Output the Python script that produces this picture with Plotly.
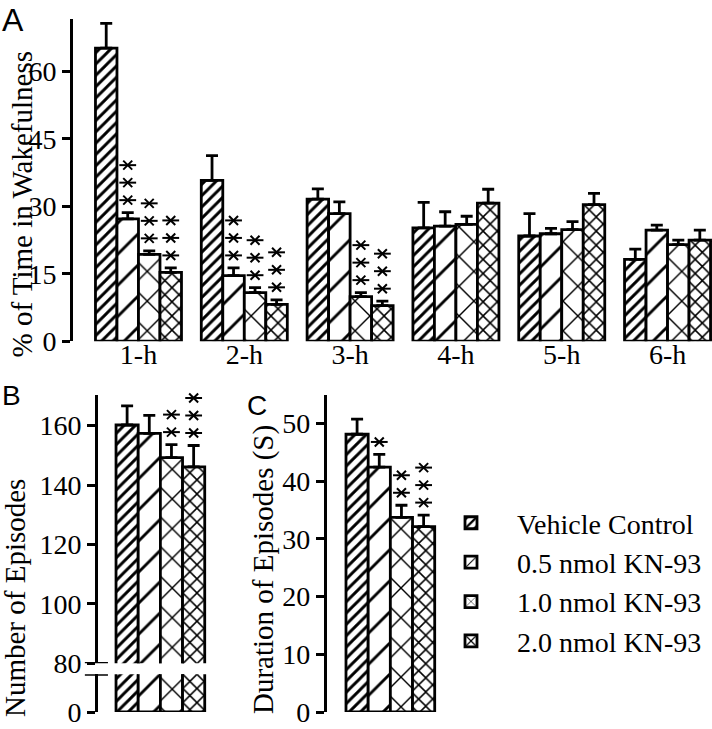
import plotly.graph_objects as go

# ---------------- data ----------------
hours = ["1-h", "2-h", "3-h", "4-h", "5-h", "6-h"]
series_names = ["Vehicle Control", "0.5 nmol KN-93", "1.0 nmol KN-93", "2.0 nmol KN-93"]

wake_vehicle = [65.2, 35.8, 31.6, 25.2, 23.4, 18.2]
wake_kn05 = [27.2, 14.6, 28.4, 25.6, 23.9, 24.7]
wake_kn10 = [19.3, 10.8, 9.9, 26.0, 24.8, 21.5]
wake_kn20 = [15.3, 8.2, 7.9, 30.7, 30.4, 22.5]

wake_vehicle_sem = [5.5, 5.5, 2.3, 5.7, 5.0, 2.3]
wake_kn05_sem = [1.4, 1.7, 2.6, 3.2, 1.2, 1.1]
wake_kn10_sem = [0.8, 1.1, 0.9, 1.8, 1.8, 1.0]
wake_kn20_sem = [1.0, 1.0, 1.0, 3.1, 2.5, 2.2]

# number of significance asterisks
wake_vehicle_sig = [0, 0, 0, 0, 0, 0]
wake_kn05_sig = [3, 3, 0, 0, 0, 0]
wake_kn10_sig = [3, 3, 3, 0, 0, 0]
wake_kn20_sig = [3, 3, 3, 0, 0, 0]

episodes_mean = [160.2, 157.4, 149.2, 146.1]
episodes_sem = [6.4, 6.0, 4.4, 7.2]
episodes_sig = [0, 0, 2, 3]

duration_mean = [48.1, 42.4, 33.7, 32.1]
duration_sem = [2.6, 2.2, 2.1, 2.0]
duration_sig = [0, 1, 2, 3]

wake_means = [wake_vehicle, wake_kn05, wake_kn10, wake_kn20]
wake_sems = [wake_vehicle_sem, wake_kn05_sem, wake_kn10_sem, wake_kn20_sem]
wake_sigs = [wake_vehicle_sig, wake_kn05_sig, wake_kn10_sig, wake_kn20_sig]
hour_pos = list(range(len(hours)))

# ---------------- style ----------------
W, H = 712, 729
SERIF = "Liberation Serif"
SANS = "Liberation Sans"
BARGAP = 0.187
patterns = [
    dict(shape="/", size=8, solidity=0.36),
    dict(shape="/", size=22, solidity=0.13),
    dict(shape="x", size=21, solidity=0.13),
    dict(shape="x", size=10, solidity=0.28),
]

dom_x_a, dom_y_a, rng_y_a = [0.1025, 1.0], [0.532, 0.974], [0, 71.7]
dom_x_b, dom_y_b, rng_y_b = [0.1376, 0.3129], [0.0901, 0.4582], [80, 170.3]
dom_y_b_low, rng_y_b_low = [0.0233, 0.075], [0, 14.5]
dom_x_c, dom_y_c, rng_y_c = [0.4589, 0.6376], [0.0233, 0.4582], [0, 54.9]


def marker(i):
    p = dict(patterns[i])
    p.update(fgcolor="black", bgcolor="white", fillmode="replace", fgopacity=1)
    return dict(color="white", pattern=p, line=dict(color="black", width=2.8))


def err(arr):
    return dict(type="data", symmetric=False, array=arr, arrayminus=[0] * len(arr),
                color="black", thickness=2.8, width=6)


fig = go.Figure()

# Panel A
for i, name in enumerate(series_names):
    fig.add_trace(go.Bar(x=hour_pos, y=wake_means[i], name=name, legendgroup=name,
                         marker=marker(i), error_y=err(wake_sems[i]),
                         xaxis="x", yaxis="y", showlegend=True))
# Panel B (upper and lower segments of the broken axis)
for i, name in enumerate(series_names):
    fig.add_trace(go.Bar(x=[0], y=[episodes_mean[i]], name=name, legendgroup=name,
                         marker=marker(i), error_y=err([episodes_sem[i]]),
                         xaxis="x2", yaxis="y2", showlegend=False))
for i, name in enumerate(series_names):
    fig.add_trace(go.Bar(x=[0], y=[episodes_mean[i]], name=name, legendgroup=name,
                         marker=marker(i), xaxis="x3", yaxis="y3", showlegend=False))
# Panel C
for i, name in enumerate(series_names):
    fig.add_trace(go.Bar(x=[0], y=[duration_mean[i]], name=name, legendgroup=name,
                         marker=marker(i), error_y=err([duration_sem[i]]),
                         xaxis="x4", yaxis="y4", showlegend=False))

# significance asterisks: drawn as markers (an X plus a horizontal bar), stacked
bw = (1 - BARGAP) / 4
star_x = {"A": [], "B": [], "C": []}
star_y = {"A": [], "B": [], "C": []}


def px_per_unit(dom, rng):
    return (dom[1] - dom[0]) * H / (rng[1] - rng[0])


def add_stars(key, xc, top, n, ppu):
    for k in range(n):
        star_x[key].append(xc)
        star_y[key].append(top + (12.5 + 17.5 * k) / ppu)


ppu_a = px_per_unit(dom_y_a, rng_y_a)
ppu_b = px_per_unit(dom_y_b, rng_y_b)
ppu_c = px_per_unit(dom_y_c, rng_y_c)
for i in range(4):
    for j in hour_pos:
        if wake_sigs[i][j]:
            add_stars("A", j + (i - 1.5) * bw, wake_means[i][j] + wake_sems[i][j],
                      wake_sigs[i][j], ppu_a)
    if episodes_sig[i]:
        add_stars("B", (i - 1.5) * bw, episodes_mean[i] + episodes_sem[i], episodes_sig[i], ppu_b)
    if duration_sig[i]:
        add_stars("C", (i - 1.5) * bw, duration_mean[i] + duration_sem[i], duration_sig[i], ppu_c)

for key, xa, ya in [("A", "x", "y"), ("B", "x2", "y2"), ("C", "x4", "y4")]:
    for sym, size in [("x-thin-open", 9), ("line-ew-open", 12)]:
        fig.add_trace(go.Scatter(x=star_x[key], y=star_y[key], mode="markers",
                                 marker=dict(symbol=sym, size=size, color="black",
                                             line=dict(color="black", width=2)),
                                 xaxis=xa, yaxis=ya, showlegend=False, hoverinfo="skip",
                                 cliponaxis=False))

yax_common = dict(showline=True, linewidth=2.8, linecolor="black", ticks="outside",
                  ticklen=8, tickwidth=2.8, tickcolor="black", showgrid=False,
                  zeroline=False, automargin=False, ticklabeloverflow="allow",
                  tickfont=dict(family=SERIF, size=28, color="black"))
xax_hidden = dict(showline=False, showgrid=False, zeroline=False, showticklabels=False,
                  ticks="", automargin=False)

fig.update_layout(
    width=W, height=H, margin=dict(l=0, r=0, t=0, b=0, autoexpand=False),
    paper_bgcolor="white", plot_bgcolor="white",
    barmode="group", bargap=BARGAP, bargroupgap=0,
    showlegend=True,
    legend=dict(x=425 / W, y=0.2016, xanchor="left", yanchor="middle",
                font=dict(family=SERIF, size=28, color="black"),
                bgcolor="rgba(0,0,0,0)", tracegroupgap=0, itemwidth=82),
    xaxis=dict(domain=dom_x_a, range=[-0.619, 5.42], tickvals=hour_pos, ticktext=hours,
               showline=False, showgrid=False, zeroline=False, ticks="",
               automargin=False, ticklabelstandoff=-6, ticklabeloverflow="allow",
               tickfont=dict(family=SERIF, size=28, color="black"), anchor="y"),
    yaxis=dict(domain=dom_y_a, range=rng_y_a, tickvals=[0, 15, 30, 45, 60],
               anchor="x", **yax_common),
    xaxis2=dict(domain=dom_x_b, range=[-0.572, 0.572], anchor="y2", **xax_hidden),
    yaxis2=dict(domain=dom_y_b, range=rng_y_b,
                tickvals=[80, 100, 120, 140, 160], anchor="x2", **yax_common),
    xaxis3=dict(domain=dom_x_b, range=[-0.572, 0.572], anchor="y3", **xax_hidden),
    yaxis3=dict(domain=dom_y_b_low, range=rng_y_b_low, tickvals=[0], anchor="x3",
                **yax_common),
    xaxis4=dict(domain=dom_x_c, range=[-0.583, 0.583], anchor="y4", **xax_hidden),
    yaxis4=dict(domain=dom_y_c, range=rng_y_c, tickvals=[0, 10, 20, 30, 40, 50],
                anchor="x4", **yax_common),
)

# axis titles
for text, x, y in [("% of Time in Wakefulness", 21 / W, 1 - 204.5 / H),
                   ("Number of Episodes", 15 / W, 1 - 598 / H),
                   ("Duration of Episodes (S)", 263 / W, 1 - 570 / H)]:
    fig.add_annotation(x=x, y=y, xref="paper", yref="paper", text=text, textangle=-90,
                       showarrow=False, xanchor="center", yanchor="middle",
                       font=dict(family=SERIF, size=29, color="black"))

# panel letters
for letter, x, y, size in [("A", 0.0, 1.0, 32), ("B", 0 / W, 1 - 378 / H, 28),
                           ("C", 245 / W, 1 - 388 / H, 28)]:
    fig.add_annotation(x=x, y=y, xref="paper", yref="paper", text=letter,
                       showarrow=False, xanchor="left", yanchor="top",
                       font=dict(family=SANS, size=size, color="black"))

# break marks on panel B
for yv, yr in [(rng_y_b[0], "y2"), (rng_y_b_low[1], "y3")]:
    fig.add_shape(type="line", xref="x2 domain", yref=yr, x0=-0.105, x1=0.08, y0=yv, y1=yv,
                  line=dict(color="black", width=2.8))

# remove the browser's default page margin so the figure sits at the window origin
fig.write_html("out.html", config={"displayModeBar": False},
               post_script="document.body.style.margin='0';")
